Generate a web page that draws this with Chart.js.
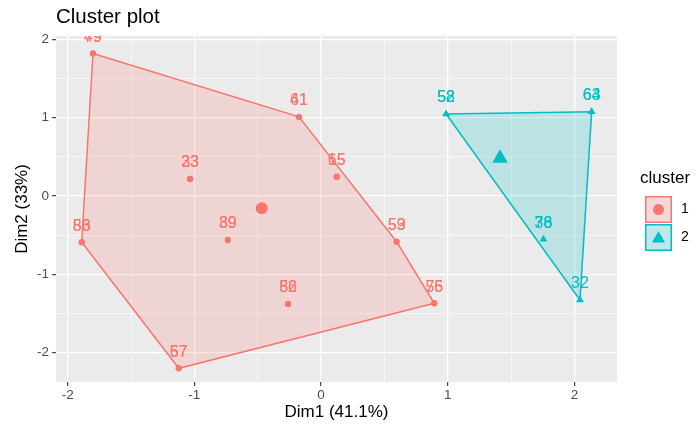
<!DOCTYPE html>
<html>
<head>
<meta charset="utf-8">
<script src="https://cdn.jsdelivr.net/npm/chart.js@4/dist/chart.umd.min.js"></script>
<style>
  html, body { margin: 0; padding: 0; background: #ffffff; }
  #wrap { width: 697px; height: 430px; position: relative; }
</style>
</head>
<body>
<div id="wrap"><canvas id="c" width="697" height="430"></canvas></div>
<script>
// ---- data -------------------------------------------------------------
const clusterNames = ['1', '2'];
const clusterColors = ['#F8766D', '#00BFC4'];
const clusterFills = ['rgba(248,118,109,0.2)', 'rgba(0,191,196,0.2)'];

// cluster 1: coordinates on the first two principal dimensions
const dim1Cluster1 = [-1.80, -0.174, -1.034, 0.124, -1.889, -0.736, 0.597, -0.26, 0.894, -1.123];
const dim2Cluster1 = [1.82, 1.01, 0.217, 0.246, -0.591, -0.562, -0.584, -1.379, -1.370, -2.20];
const labelsCluster1 = [['49', '79'], ['61', '41'], ['33', '23'], ['65', '15'], ['53', '86'],
                        ['39', '89'], ['59', '53'], ['52', '86'], ['56', '75'], ['57', '67']];
const hullCluster1 = [0, 1, 6, 8, 9, 4];

// cluster 2
const dim1Cluster2 = [0.987, 2.136, 1.755, 2.044];
const dim2Cluster2 = [1.047, 1.077, -0.553, -1.328];
const labelsCluster2 = [['52', '58'], ['63', '64'], ['78', '36'], ['32']];
const hullCluster2 = [0, 1, 3];

// cluster centres
const centerDim1 = [-0.468, 1.413];
const centerDim2 = [-0.157, 0.481];

// axis ticks
const xMajorTicks = [-2, -1, 0, 1, 2];
const xMinorTicks = [-1.5, -0.5, 0.5, 1.5];
const yMajorTicks = [-2, -1, 0, 1, 2];
const yMinorTicks = [-1.5, -0.5, 0.5, 1.5];

const xTitle = 'Dim1 (41.1%)';
const yTitle = 'Dim2 (33%)';
const plotTitle = 'Cluster plot';
const legendTitle = 'cluster';

// ---- helpers ----------------------------------------------------------
const FONT = "'Liberation Sans', Arial, sans-serif";
const toPoints = (xs, ys) => xs.map((x, i) => ({ x: x, y: ys[i] }));
const hullPoints = (xs, ys, idx) => idx.concat([idx[0]]).map(i => ({ x: xs[i], y: ys[i] }));
const isMajor = v => Math.abs(v - Math.round(v)) < 1e-9;

const pointsC1 = toPoints(dim1Cluster1, dim2Cluster1);
const pointsC2 = toPoints(dim1Cluster2, dim2Cluster2);

// ---- plugins ----------------------------------------------------------
const panelPlugin = {
  id: 'panel',
  beforeDraw(chart) {
    const { ctx, chartArea: a } = chart;
    ctx.save();
    ctx.fillStyle = '#EBEBEB';
    ctx.fillRect(a.left, a.top, a.right - a.left, a.bottom - a.top);
    ctx.restore();
  }
};

const pointLabelPlugin = {
  id: 'pointLabels',
  afterDatasetsDraw(chart) {
    const { ctx, chartArea: a, scales } = chart;
    ctx.save();
    ctx.beginPath();
    ctx.rect(a.left, a.top, a.right - a.left, a.bottom - a.top);
    ctx.clip();
    ctx.font = '16px ' + FONT;
    ctx.textAlign = 'center';
    ctx.textBaseline = 'middle';
    const groups = [
      [dim1Cluster1, dim2Cluster1, labelsCluster1, clusterColors[0]],
      [dim1Cluster2, dim2Cluster2, labelsCluster2, clusterColors[1]]
    ];
    groups.forEach(([xs, ys, labs, col]) => {
      ctx.fillStyle = col;
      xs.forEach((x, i) => {
        const px = scales.x.getPixelForValue(x);
        const py = scales.y.getPixelForValue(ys[i]) - 16;
        labs[i].forEach(t => ctx.fillText(t, px, py));
      });
    });
    ctx.restore();
  }
};

const decorPlugin = {
  id: 'decor',
  afterDraw(chart) {
    const { ctx } = chart;
    ctx.save();
    // title
    ctx.fillStyle = '#000000';
    ctx.font = '20.5px ' + FONT;
    ctx.textAlign = 'left';
    ctx.textBaseline = 'alphabetic';
    ctx.fillText(plotTitle, 56, 23);

    // legend
    ctx.font = '17px ' + FONT;
    ctx.textBaseline = 'middle';
    ctx.fillText(legendTitle, 640, 178);
    const keyX = 645, keyW = 27, keyH = 27;
    const keyY = [196, 224];
    clusterNames.forEach((name, i) => {
      const y = keyY[i];
      ctx.fillStyle = '#F2F2F2';
      ctx.fillRect(keyX, y, keyW, keyH);
      ctx.fillStyle = clusterFills[i];
      ctx.fillRect(keyX, y, keyW, keyH);
      ctx.strokeStyle = clusterColors[i];
      ctx.lineWidth = 1.5;
      ctx.strokeRect(keyX + 0.75, y + 0.75, keyW - 1.5, keyH - 1.5);
      const cx = keyX + keyW / 2, cy = y + keyH / 2;
      ctx.fillStyle = clusterColors[i];
      ctx.beginPath();
      if (i === 0) {
        ctx.arc(cx, cy, 5.5, 0, Math.PI * 2);
      } else {
        ctx.moveTo(cx, cy - 6.5);
        ctx.lineTo(cx + 6.5, cy + 5);
        ctx.lineTo(cx - 6.5, cy + 5);
        ctx.closePath();
      }
      ctx.fill();
      ctx.fillStyle = '#000000';
      ctx.font = '14px ' + FONT;
      ctx.textAlign = 'left';
      ctx.fillText(name, 681, cy);
    });
    ctx.restore();
  }
};

// ---- scales -----------------------------------------------------------
function axisGrid() {
  return {
    color: '#FFFFFF',
    lineWidth: ctx => (ctx.tick && isMajor(ctx.tick.value)) ? 1.3 : 0.6,
    tickColor: ctx => (ctx.tick && isMajor(ctx.tick.value)) ? '#333333' : 'rgba(0,0,0,0)',
    tickLength: 4,
    tickWidth: 1.1,
    drawTicks: true
  };
}

const chart = new Chart(document.getElementById('c'), {
  type: 'scatter',
  data: {
    datasets: [
      {
        label: 'centres 1',
        data: [{ x: centerDim1[0], y: centerDim2[0] }],
        pointStyle: 'circle', pointRadius: 6, borderWidth: 0,
        backgroundColor: clusterColors[0], order: 0
      },
      {
        label: 'centres 2',
        data: [{ x: centerDim1[1], y: centerDim2[1] }],
        pointStyle: 'triangle', pointRadius: 9, borderWidth: 0,
        backgroundColor: clusterColors[1], order: 0
      },
      {
        label: clusterNames[0],
        data: pointsC1,
        pointStyle: 'circle', pointRadius: 3.2, borderWidth: 0,
        backgroundColor: clusterColors[0], order: 1
      },
      {
        label: clusterNames[1],
        data: pointsC2,
        pointStyle: 'triangle', pointRadius: 4.6, borderWidth: 0,
        backgroundColor: clusterColors[1], order: 1
      },
      {
        label: 'hull 1',
        data: hullPoints(dim1Cluster1, dim2Cluster1, hullCluster1),
        showLine: true, fill: 'shape', pointRadius: 0,
        borderColor: clusterColors[0], backgroundColor: clusterFills[0],
        borderWidth: 1.5, tension: 0, order: 2
      },
      {
        label: 'hull 2',
        data: hullPoints(dim1Cluster2, dim2Cluster2, hullCluster2),
        showLine: true, fill: 'shape', pointRadius: 0,
        borderColor: clusterColors[1], backgroundColor: clusterFills[1],
        borderWidth: 1.5, tension: 0, order: 2
      }
    ]
  },
  options: {
    responsive: false,
    animation: false,
    devicePixelRatio: 1,
    layout: { padding: { left: 6, right: 80, top: 36, bottom: 7 } },
    plugins: {
      legend: { display: false },
      tooltip: { enabled: false },
      title: { display: false }
    },
    scales: {
      x: {
        type: 'linear',
        min: -2.092, max: 2.336,
        afterBuildTicks: s => { s.ticks = xMajorTicks.concat(xMinorTicks).sort((a, b) => a - b).map(v => ({ value: v })); },
        afterFit: s => { s.height = 41; },
        grid: axisGrid(),
        border: { display: false },
        ticks: {
          autoSkip: false, maxRotation: 0, padding: 1,
          color: '#4D4D4D', font: { family: FONT, size: 13.5 },
          callback: v => isMajor(v) ? String(v) : ''
        },
        title: {
          display: true, text: xTitle, color: '#000000',
          font: { family: FONT, size: 17 }, padding: { top: 0, bottom: 0 }
        }
      },
      y: {
        type: 'linear',
        min: -2.375, max: 2.043,
        afterBuildTicks: s => { s.ticks = yMajorTicks.concat(yMinorTicks).sort((a, b) => a - b).map(v => ({ value: v })); },
        afterFit: s => { s.width = 50; },
        grid: axisGrid(),
        border: { display: false },
        ticks: {
          autoSkip: false, padding: 3,
          color: '#4D4D4D', font: { family: FONT, size: 13.5 },
          callback: v => isMajor(v) ? String(v) : ''
        },
        title: {
          display: true, text: yTitle, color: '#000000',
          font: { family: FONT, size: 17 }, padding: { top: 6, bottom: 0 }
        }
      }
    }
  },
  plugins: [panelPlugin, pointLabelPlugin, decorPlugin]
});
</script>
</body>
</html>
